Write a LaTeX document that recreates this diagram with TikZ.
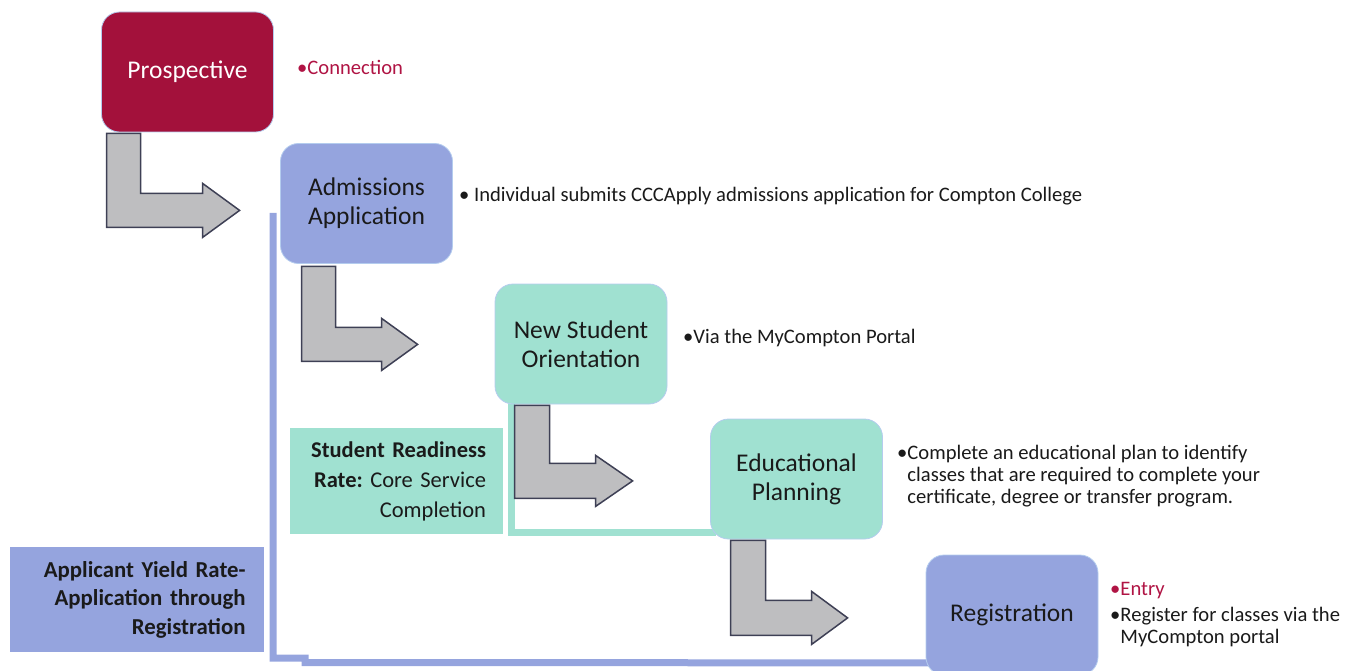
\documentclass[tikz,border=0pt]{standalone}
\usepackage{fontspec}
\setmainfont{Carlito}
\usetikzlibrary{calc,backgrounds}
\frenchspacing

\definecolor{crim}{HTML}{A3113B}
\definecolor{crimtext}{HTML}{B01444}
\definecolor{peri}{HTML}{95A4DE}
\definecolor{mint}{HTML}{A0E1D1}
\definecolor{arrowgray}{HTML}{BEBEC0}
\definecolor{arrowedge}{HTML}{3E4055}
\definecolor{boxedge}{HTML}{B4CCEE}
\definecolor{ink}{HTML}{1A1A1A}

% bent block arrow: start (top-left of stem), stem width, drop, head base, tip, head overhang
\newcommand{\bentarrow}[6]{%
  \draw[blockarrow] #1 -- ++(#2,0) -- ++(0,#3) -- ++({#4-#2},0) -- ++(0,-#6)
    -- ++({#5-#4},{#6+#2/2}) -- ++({#4-#5},{#2/2+#6}) -- ++(0,-#6) -- ++(-#4,0) -- cycle;}

\begin{document}
\begin{tikzpicture}[x=1pt,y=-1pt,
  stage/.style={draw=boxedge, line width=0.8pt, rounded corners=18pt,
    minimum width=172pt, minimum height=120pt, align=center, inner sep=0pt,
    text=ink, font=\fontsize{25.5}{29}\selectfont},
  note/.style={anchor=west, align=left, inner sep=0pt, text=ink,
    font=\fontsize{20.6}{22}\selectfont},
  metric/.style={inner sep=0pt, align=right, text=ink},
  blockarrow/.style={fill=arrowgray, draw=arrowedge, line width=1.5pt, line join=miter},
  tie/.style={line width=7pt, line join=miter}
]
\useasboundingbox (0,0) rectangle (1357,671);

% process stages
\node[stage, fill=crim, text=white] (pro) at (187.5,72) {Prospective};
\node[stage, fill=peri] (adm) at (366.5,203.5) {Admissions\\Application};
\node[stage, fill=mint] (ori) at (581,344) {New Student\\Orientation};
\node[stage, fill=mint] (edu) at (796.5,479) {Educational\\Planning};
\node[stage, fill=peri] (reg) at (1012,615) {Registration};

% metric labels
\node[metric, fill=mint, minimum width=213pt, minimum height=106pt,
  text width=179pt, font=\fontsize{22.5}{30}\selectfont] (ready) at (396.5,481)
  {\textbf{Student Readiness}\\\textbf{Rate:} Core Service\\Completion};
\node[metric, fill=peri, minimum width=254pt, minimum height=105pt,
  text width=218pt, font=\fontsize{22.8}{28.5}\selectfont] (yield) at (136.5,599.5)
  {\textbf{Applicant Yield Rate-}\\\textbf{Application through}\\\textbf{Registration}};

% brackets behind the stages
\begin{scope}[on background layer]
  \draw[tie, draw=peri] ($(adm.west)+(-7,9.5)$) -- ++(0,445) -- ++(32,0) -- ++(0,4.5)
    -- ($(reg.south west)+(6,-12.5)$);
  \draw[tie, draw=mint] ($(ori.south west)+(16.5,0)$) |- ($(edu.south west)+(6,-7)$);
\end{scope}

% step arrows
\bentarrow{($(pro.south west)+(5.5,1)$)}{34}{60}{96}{133}{10}
\bentarrow{($(adm.south west)+(21.5,2.5)$)}{34}{61}{80}{116}{9}
\bentarrow{($(ori.south west)+(20,1)$)}{35}{58}{81}{118}{8}
\bentarrow{($(edu.south west)+(20.5,1)$)}{35}{60}{81}{117}{9}

% descriptions
\node[note, text=crimtext] (n1) at (297,67) {•Connection};
\node[note] (n2) at (459,196) {• Individual submits CCCApply admissions application for Compton College};
\node[note] (n3) at (683,338) {•Via the MyCompton Portal};
\node[note] (n4) at (897,476) {•Complete an educational plan to identify\\\phantom{•}classes that are required to complete your\\\phantom{•}certificate, degree or transfer program.};
\node[note, anchor=north west] (n5) at (1110,582) {{\color{crimtext}•Entry}\\[4pt]•Register for classes via the\\\phantom{•}MyCompton portal};
\end{tikzpicture}
\end{document}
